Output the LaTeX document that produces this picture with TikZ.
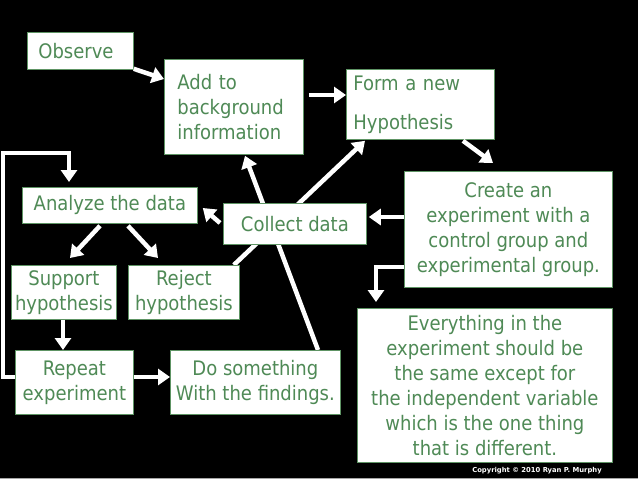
\documentclass[tikz,border=0pt]{standalone}
\usepackage{fontspec}
\setmainfont{DejaVu Sans Condensed}
\newfontfamily\copyfont{DejaVu Sans}
\usetikzlibrary{arrows.meta,calc,backgrounds}
\definecolor{txtgreen}{HTML}{4F8A56}
\definecolor{boxline}{HTML}{5E9464}
\begin{document}
\begin{tikzpicture}[x=1pt,y=-1pt,
  box/.style={draw=boxline, line width=0.8pt, fill=white, text=txtgreen,
    font=\fontsize{20}{25}\selectfont, inner sep=0pt, anchor=north west, align=center},
  lbox/.style={box, align=left},
  flow/.style={draw=white, line width=4.5pt, -{Triangle[width=16pt,length=12pt]}}]
\useasboundingbox (0,0) rectangle (638,479);

% nodes
\node[lbox, inner xsep=11pt, text width=84pt, minimum height=37pt] (obs) at (27,32) {Observe};
\node[lbox, inner xsep=13pt, text width=113pt, minimum height=95pt] (add) at (164,59) {Add to\\background\\information};
\node[lbox, inner xsep=7pt, text width=134pt, minimum height=70pt] (form) at (346,69) {Form a new\\[14pt]Hypothesis};
\node[box, minimum width=208pt, minimum height=116pt] (create) at (404,171) {Create an\\experiment with a\\control group and\\experimental group.};
\node[box, minimum width=143pt, minimum height=41pt] (collect) at (223,203) {Collect data};
\node[box, minimum width=175pt, minimum height=36pt] (analyze) at (22,187) {Analyze the data};
\node[box, minimum width=105pt, minimum height=54pt] (support) at (11,265) {Support\\hypothesis};
\node[box, minimum width=111pt, minimum height=54pt] (reject) at (128,265) {Reject\\hypothesis};
\node[box, minimum width=118pt, minimum height=64pt] (repeat) at (15,350) {Repeat\\experiment};
\node[box, minimum width=170pt, minimum height=64pt] (dosome) at (170,350) {Do something\\With the findings.};
\node[box, minimum width=255pt, minimum height=154pt] (every) at (357,308) {Everything in the\\experiment should be\\the same except for\\the independent variable\\which is the one thing\\that is different.};
\node[text=white, inner sep=0pt, font=\copyfont\bfseries\fontsize{6.8}{8}\selectfont] (copy) at (537,471) {Copyright © 2010 Ryan P. Murphy};

\begin{pgfonlayer}{background}
  \fill[black] (0,0) rectangle (638,479);
  \draw[gray!70, line width=1pt] (0,478) -- (638,478);
  % long arrows passing behind "Collect data"
  \draw[flow] ($(dosome.north west)+(148,0)$) -- ($(add.south west)+(81,1)$);
  \draw[flow] ($(reject.north east)+(-6,0)$) -- ($(form.south west)+(19,1)$);
\end{pgfonlayer}

% connectors
\draw[flow] ($(obs.south east)+(0,-1)$) -- ($(add.north west)+(0,20)$);
\draw[flow] ($(add.north east)+(5,36)$) -- ($(form.north west)+(0,26)$);
\draw[flow] ($(form.south west)+(117,1)$) -- ($(create.north west)+(89,-8)$);
\draw[flow] ($(create.north west)+(0,46)$) -- ($(collect.north east)+(2,14)$);
\draw[flow] ($(create.north west)+(0,96)$) -| ($(every.north west)+(19,-6)$);
\draw[flow] ($(collect.north west)+(-3,20)$) -- ($(analyze.north east)+(5,21)$);
\draw[flow] ($(analyze.south west)+(78,2)$) -- ($(support.north west)+(59,-7)$);
\draw[flow] ($(analyze.south west)+(106,2)$) -- ($(reject.north west)+(30,-7)$);
\draw[flow] ($(support.south west)+(52,0)$) -- ($(repeat.north west)+(48,0)$);
\draw[flow] ($(repeat.north east)+(0,27)$) -- ($(dosome.north west)+(0,27)$);
\coordinate (loopA) at (3,377);
\coordinate (loopB) at (3,153);
\draw[flow, line width=4pt] ($(repeat.north west)+(0,27)$) -- (loopA) -- (loopB) -| ($(analyze.north west)+(47,-5)$);
\end{tikzpicture}
\end{document}
